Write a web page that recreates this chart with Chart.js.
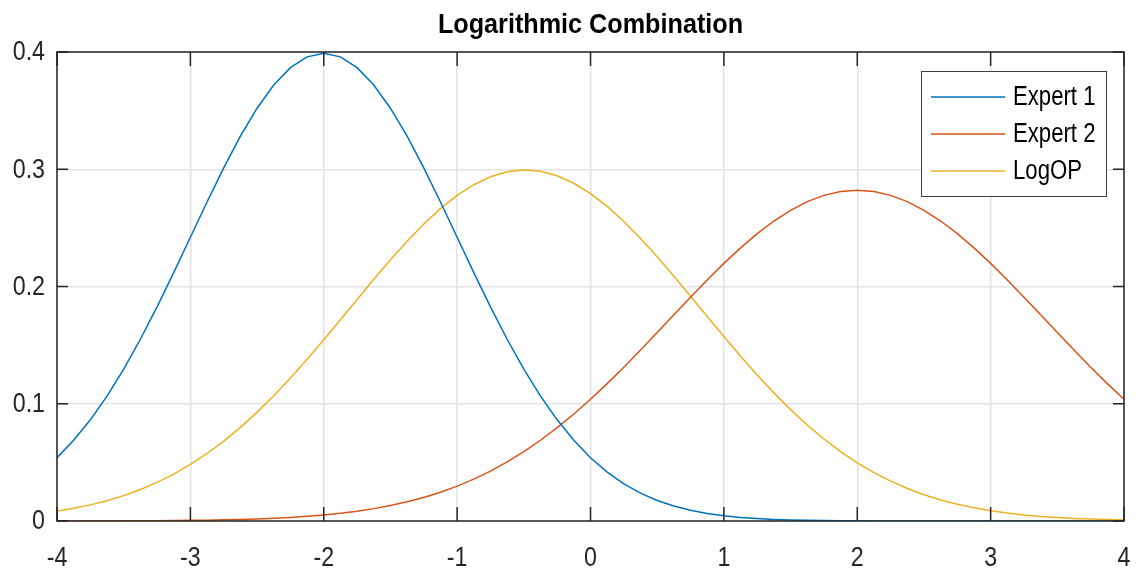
<!DOCTYPE html>
<html>
<head>
<meta charset="utf-8">
<script src="https://cdn.jsdelivr.net/npm/chart.js@4.4.1/dist/chart.umd.min.js"></script>
<style>
  html, body { margin: 0; padding: 0; background: #fff; }
  #wrap { width: 1142px; height: 573px; }
</style>
</head>
<body>
<div id="wrap"><canvas id="myChart"></canvas></div>
<script>
// Datos (x de -4 a 4, paso 0.125)

const xs = [
  -4, -3.875, -3.75, -3.625, -3.5, -3.375, -3.25, -3.125, -3, -2.875, -2.75, -2.625, -2.5,
  -2.375, -2.25, -2.125, -2, -1.875, -1.75, -1.625, -1.5, -1.375, -1.25, -1.125, -1,
  -0.875, -0.75, -0.625, -0.5, -0.375, -0.25, -0.125, 0, 0.125, 0.25, 0.375, 0.5,
  0.625, 0.75, 0.875, 1, 1.125, 1.25, 1.375, 1.5, 1.625, 1.75, 1.875, 2, 2.125, 2.25,
  2.375, 2.5, 2.625, 2.75, 2.875, 3, 3.125, 3.25, 3.375, 3.5, 3.625, 3.75, 3.875, 4
];

const expert1 = [
  0.05399, 0.06879, 0.08628, 0.10653, 0.12952, 0.15501, 0.18265, 0.21188, 0.24197,
  0.27205, 0.30114, 0.32816, 0.35207, 0.37185, 0.38667, 0.39584, 0.39894, 0.39584,
  0.38667, 0.37185, 0.35207, 0.32816, 0.30114, 0.27205, 0.24197, 0.21188, 0.18265,
  0.15501, 0.12952, 0.10653, 0.08628, 0.06879, 0.05399, 0.04172, 0.03174, 0.02377,
  0.01753, 0.01273, 0.00909, 0.00640, 0.00443, 0.00302, 0.00203, 0.00134, 0.00087,
  0.00056, 0.00035, 0.00022, 0.00013, 0.00008, 0.00005, 0.00003, 0.00002, 0.00001,
  0.00001, 0, 0, 0, 0, 0, 0, 0, 0, 0, 0
];

const expert2 = [
  0.00003, 0.00005, 0.00007, 0.00010, 0.00015, 0.00021, 0.00029, 0.00040, 0.00054,
  0.00074, 0.00100, 0.00134, 0.00179, 0.00236, 0.00309, 0.00401, 0.00517, 0.00661,
  0.00839, 0.01056, 0.01319, 0.01636, 0.02012, 0.02455, 0.02973, 0.03572, 0.04258,
  0.05038, 0.05913, 0.06886, 0.07957, 0.09123, 0.10378, 0.11714, 0.13119, 0.14578,
  0.16073, 0.17584, 0.19087, 0.20558, 0.21970, 0.23295, 0.24509, 0.25585, 0.26500,
  0.27235, 0.27772, 0.28100, 0.28209, 0.28100, 0.27772, 0.27235, 0.26500, 0.25585,
  0.24509, 0.23295, 0.21970, 0.20558, 0.19087, 0.17584, 0.16073, 0.14578, 0.13119,
  0.11714, 0.10378
];

const logop = [
  0.00842, 0.01080, 0.01375, 0.01734, 0.02166, 0.02682, 0.03291, 0.04002, 0.04822,
  0.05757, 0.06813, 0.07988, 0.09283, 0.10690, 0.12199, 0.13796, 0.15461, 0.17171,
  0.18897, 0.20610, 0.22277, 0.23859, 0.25325, 0.26637, 0.27766, 0.28681, 0.29359,
  0.29782, 0.29939, 0.29825, 0.29444, 0.28806, 0.27927, 0.26831, 0.25546, 0.24102,
  0.22536, 0.20881, 0.19173, 0.17446, 0.15732, 0.14058, 0.12449, 0.10925, 0.09500,
  0.08187, 0.06993, 0.05918, 0.04964, 0.04125, 0.03398, 0.02774, 0.02243, 0.01798,
  0.01428, 0.01124, 0.00877, 0.00678, 0.00519, 0.00394, 0.00297, 0.00221, 0.00163,
  0.00120, 0.00087
];

const etiquetas = ["Expert 1", "Expert 2", "LogOP"];
const colores = ["#0072BD", "#D95319", "#EDB120"];
const titulo = "Logarithmic Combination";
const xTicks = [-4, -3, -2, -1, 0, 1, 2, 3, 4];
const yTicks = [0, 0.1, 0.2, 0.3, 0.4];
const yTickText = ["0", "0.1", "0.2", "0.3", "0.4"];

// Estilos

const fuente = '"Liberation Sans", Arial, sans-serif';
const ejeColor = "#262626";
const gridColor = "#e3e3e3";

let puntos = (ys) => xs.map((x, i) => ({ x: x, y: ys[i] }));

// Texto estrecho (la fuente original es condensada)

let texto = (c, str, x, y, sx, align) => {
  c.save();
  c.translate(x, y);
  c.scale(sx, 1);
  c.textAlign = align;
  c.fillText(str, 0, 0);
  c.restore();
};

// Plugin: titulo, etiquetas, caja, marcas hacia dentro y leyenda

const marco = {
  id: "marco",
  afterDraw(chart) {
    const c = chart.ctx;
    const a = chart.chartArea;
    const sx = chart.scales.x;
    const sy = chart.scales.y;
    c.save();

    // titulo
    c.fillStyle = "#000";
    c.textBaseline = "alphabetic";
    c.font = "bold 28px " + fuente;
    texto(c, titulo, (a.left + a.right) / 2, 33, 0.9, "center");

    // etiquetas de los ejes
    c.fillStyle = ejeColor;
    c.font = "27px " + fuente;
    c.textBaseline = "middle";
    xTicks.forEach(v => {
      texto(c, String(v), sx.getPixelForValue(v), a.bottom + 38, 0.86, "center");
    });
    yTicks.forEach((v, i) => {
      texto(c, yTickText[i], a.left - 12, sy.getPixelForValue(v) + 1, 0.86, "right");
    });

    // caja y marcas
    c.strokeStyle = ejeColor;
    c.lineWidth = 1.5;
    c.beginPath();
    xTicks.forEach(v => {
      const px = sx.getPixelForValue(v);
      c.moveTo(px, a.bottom); c.lineTo(px, a.bottom - 14);
      c.moveTo(px, a.top); c.lineTo(px, a.top + 14);
    });
    yTicks.forEach(v => {
      const py = sy.getPixelForValue(v);
      c.moveTo(a.left, py); c.lineTo(a.left + 11, py);
      c.moveTo(a.right, py); c.lineTo(a.right - 11, py);
    });
    c.stroke();
    c.strokeRect(a.left, a.top, a.right - a.left, a.bottom - a.top);

    // leyenda
    const w = 185, h = 125;
    const lx = a.right - 18 - w;
    const ly = a.top + 19;
    c.fillStyle = "#fff";
    c.fillRect(lx, ly, w, h);
    c.strokeStyle = "#404040";
    c.lineWidth = 1;
    c.strokeRect(lx + 0.5, ly + 0.5, w, h);
    c.font = "27px " + fuente;
    c.textBaseline = "middle";
    chart.data.datasets.forEach((ds, i) => {
      const cy = ly + 26 + i * 37;
      c.strokeStyle = ds.borderColor;
      c.lineWidth = 1.5;
      c.beginPath();
      c.moveTo(lx + 10, cy); c.lineTo(lx + 84, cy);
      c.stroke();
      c.fillStyle = "#000";
      texto(c, ds.label, lx + 92, cy + 1, 0.82, "left");
    });
    c.restore();
  }
};

const ctx = document.getElementById("myChart").getContext("2d");

const myChart = new Chart(ctx, {
  type: "line",
  data: {
    datasets: [
      { label: etiquetas[0], data: puntos(expert1), borderColor: colores[0] },
      { label: etiquetas[1], data: puntos(expert2), borderColor: colores[1] },
      { label: etiquetas[2], data: puntos(logop), borderColor: colores[2] }
    ]
  },
  options: {
    responsive: true,
    maintainAspectRatio: false,
    animation: false,
    devicePixelRatio: 1,
    layout: { padding: { left: 0, right: 18, top: 52, bottom: 0 } },
    elements: {
      point: { radius: 0 },
      line: { borderWidth: 1.5, tension: 0, fill: false }
    },
    plugins: {
      legend: { display: false },
      tooltip: { enabled: false },
      title: { display: false }
    },
    scales: {
      x: {
        type: "linear",
        min: -4,
        max: 4,
        afterBuildTicks: (s) => { s.ticks = xTicks.map(v => ({ value: v })); },
        afterFit: (s) => { s.height = 52; },
        ticks: { display: false },
        grid: { color: gridColor, lineWidth: 1.5, drawTicks: false },
        border: { display: false }
      },
      y: {
        min: 0,
        max: 0.4,
        afterBuildTicks: (s) => { s.ticks = yTicks.map(v => ({ value: v })); },
        afterFit: (s) => { s.width = 57; },
        ticks: { display: false },
        grid: { color: gridColor, lineWidth: 1.5, drawTicks: false },
        border: { display: false }
      }
    }
  },
  plugins: [marco]
});
</script>
</body>
</html>
